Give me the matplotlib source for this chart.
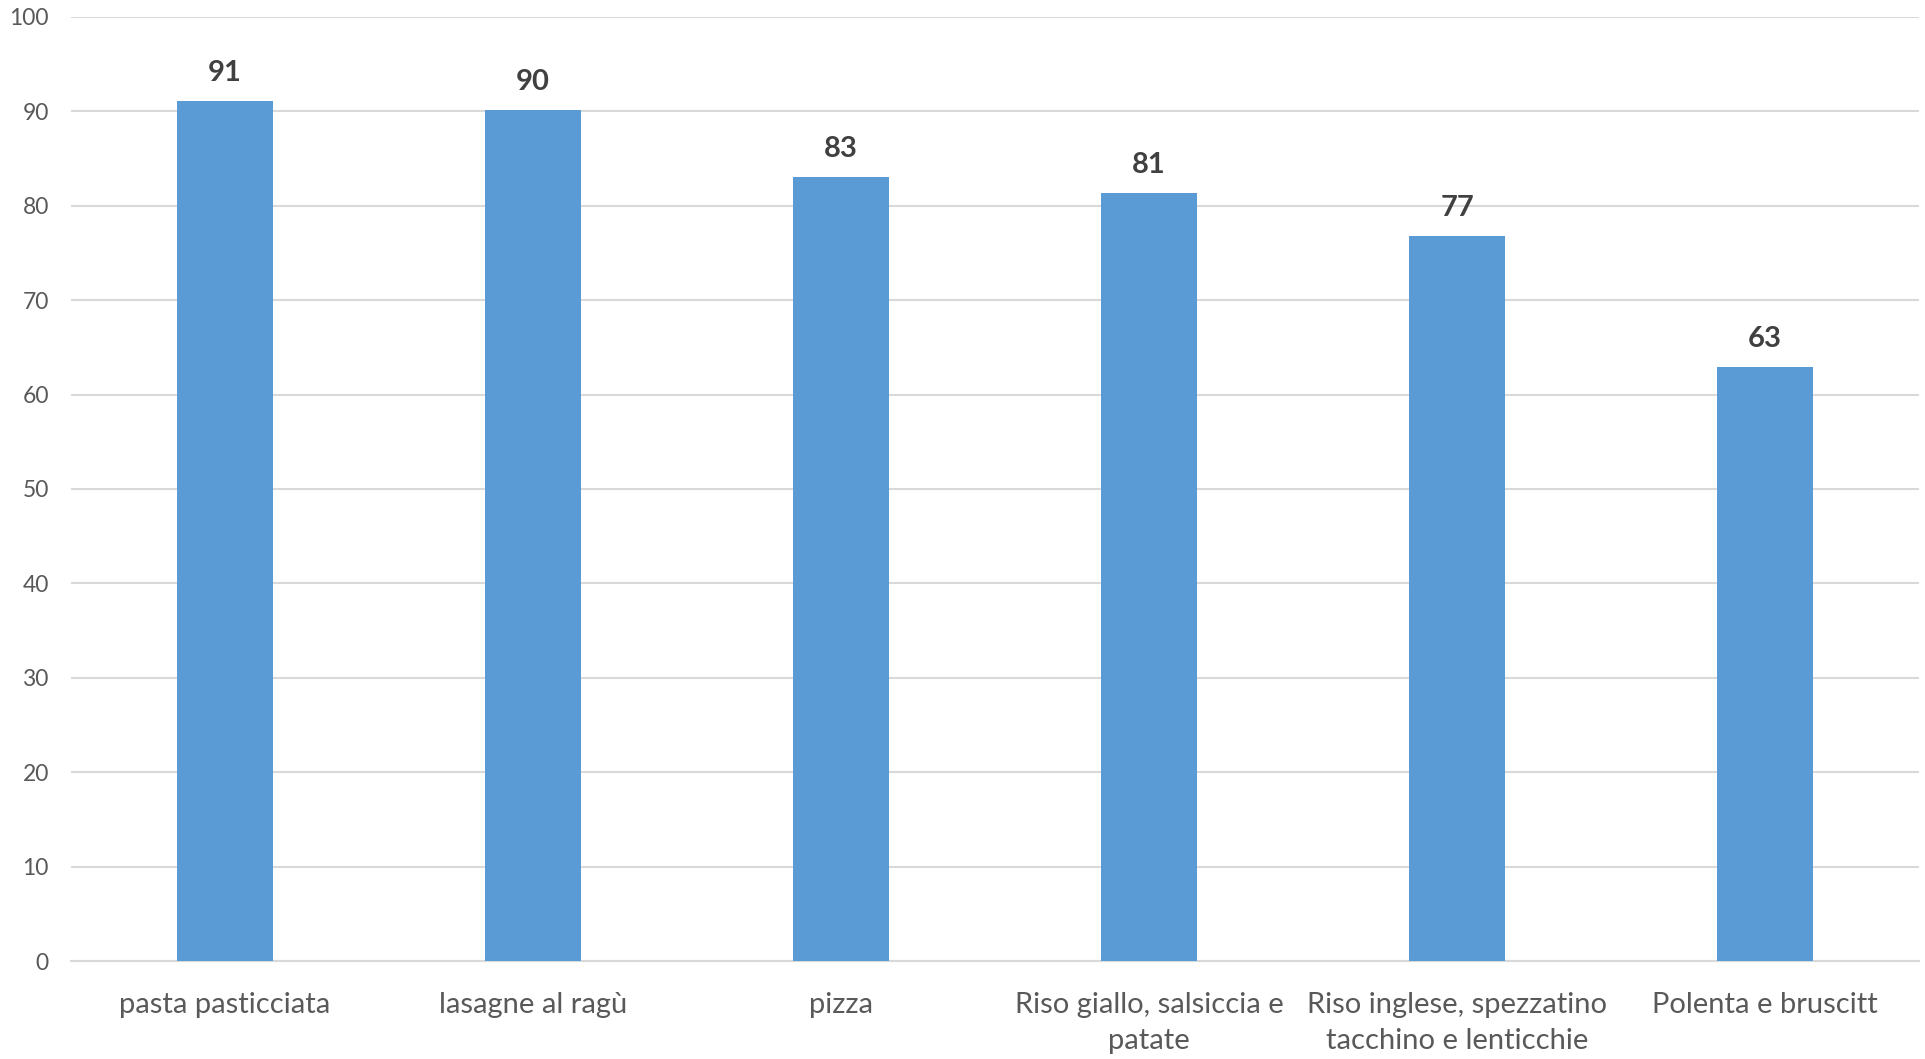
import matplotlib
matplotlib.use('Agg')
import matplotlib.pyplot as plt

# piatti e percentuale di gradimento
dishes = ['pasta pasticciata', 'lasagne al ragù', 'pizza',
          'Riso giallo, salsiccia e\npatate',
          'Riso inglese, spezzatino\ntacchino e lenticchie',
          'Polenta e bruscitt']
scores = [91.1, 90.1, 83.0, 81.3, 76.8, 62.9]
y_ticks = [0, 10, 20, 30, 40, 50, 60, 70, 80, 90, 100]

plt.rcParams['font.family'] = ['Lato', 'DejaVu Sans']

fig = plt.figure(figsize=(19.25, 10.59), dpi=100)
ax = fig.add_axes([0.0369, 0.0925, 0.96, 0.8915])

x = list(range(len(dishes)))
bars = ax.bar(x, scores, width=0.31, color='#5B9BD5', zorder=3)

for b, v in zip(bars, scores):
    ax.text(b.get_x() + b.get_width() / 2, v + 1.6, '%.0f' % v,
            ha='center', va='bottom', fontsize=21, fontweight='bold', color='#404040')

ax.set_xlim(-0.5, len(dishes) - 0.5)
ax.set_ylim(0, 100)
ax.set_yticks(y_ticks)
ax.set_xticks(x)
ax.set_xticklabels(dishes, fontsize=21, color='#595959', linespacing=1.5)
ax.tick_params(axis='x', length=0, pad=22)
ax.tick_params(axis='y', length=0, pad=16, labelsize=16.5, labelcolor='#595959')

ax.grid(axis='y', color='#D9D9D9', linewidth=1.5, zorder=0)
for s in ['top', 'right', 'left']:
    ax.spines[s].set_visible(False)
ax.spines['bottom'].set_color('#D9D9D9')
ax.spines['bottom'].set_linewidth(1.5)

fig.savefig('out.png', dpi=100)
